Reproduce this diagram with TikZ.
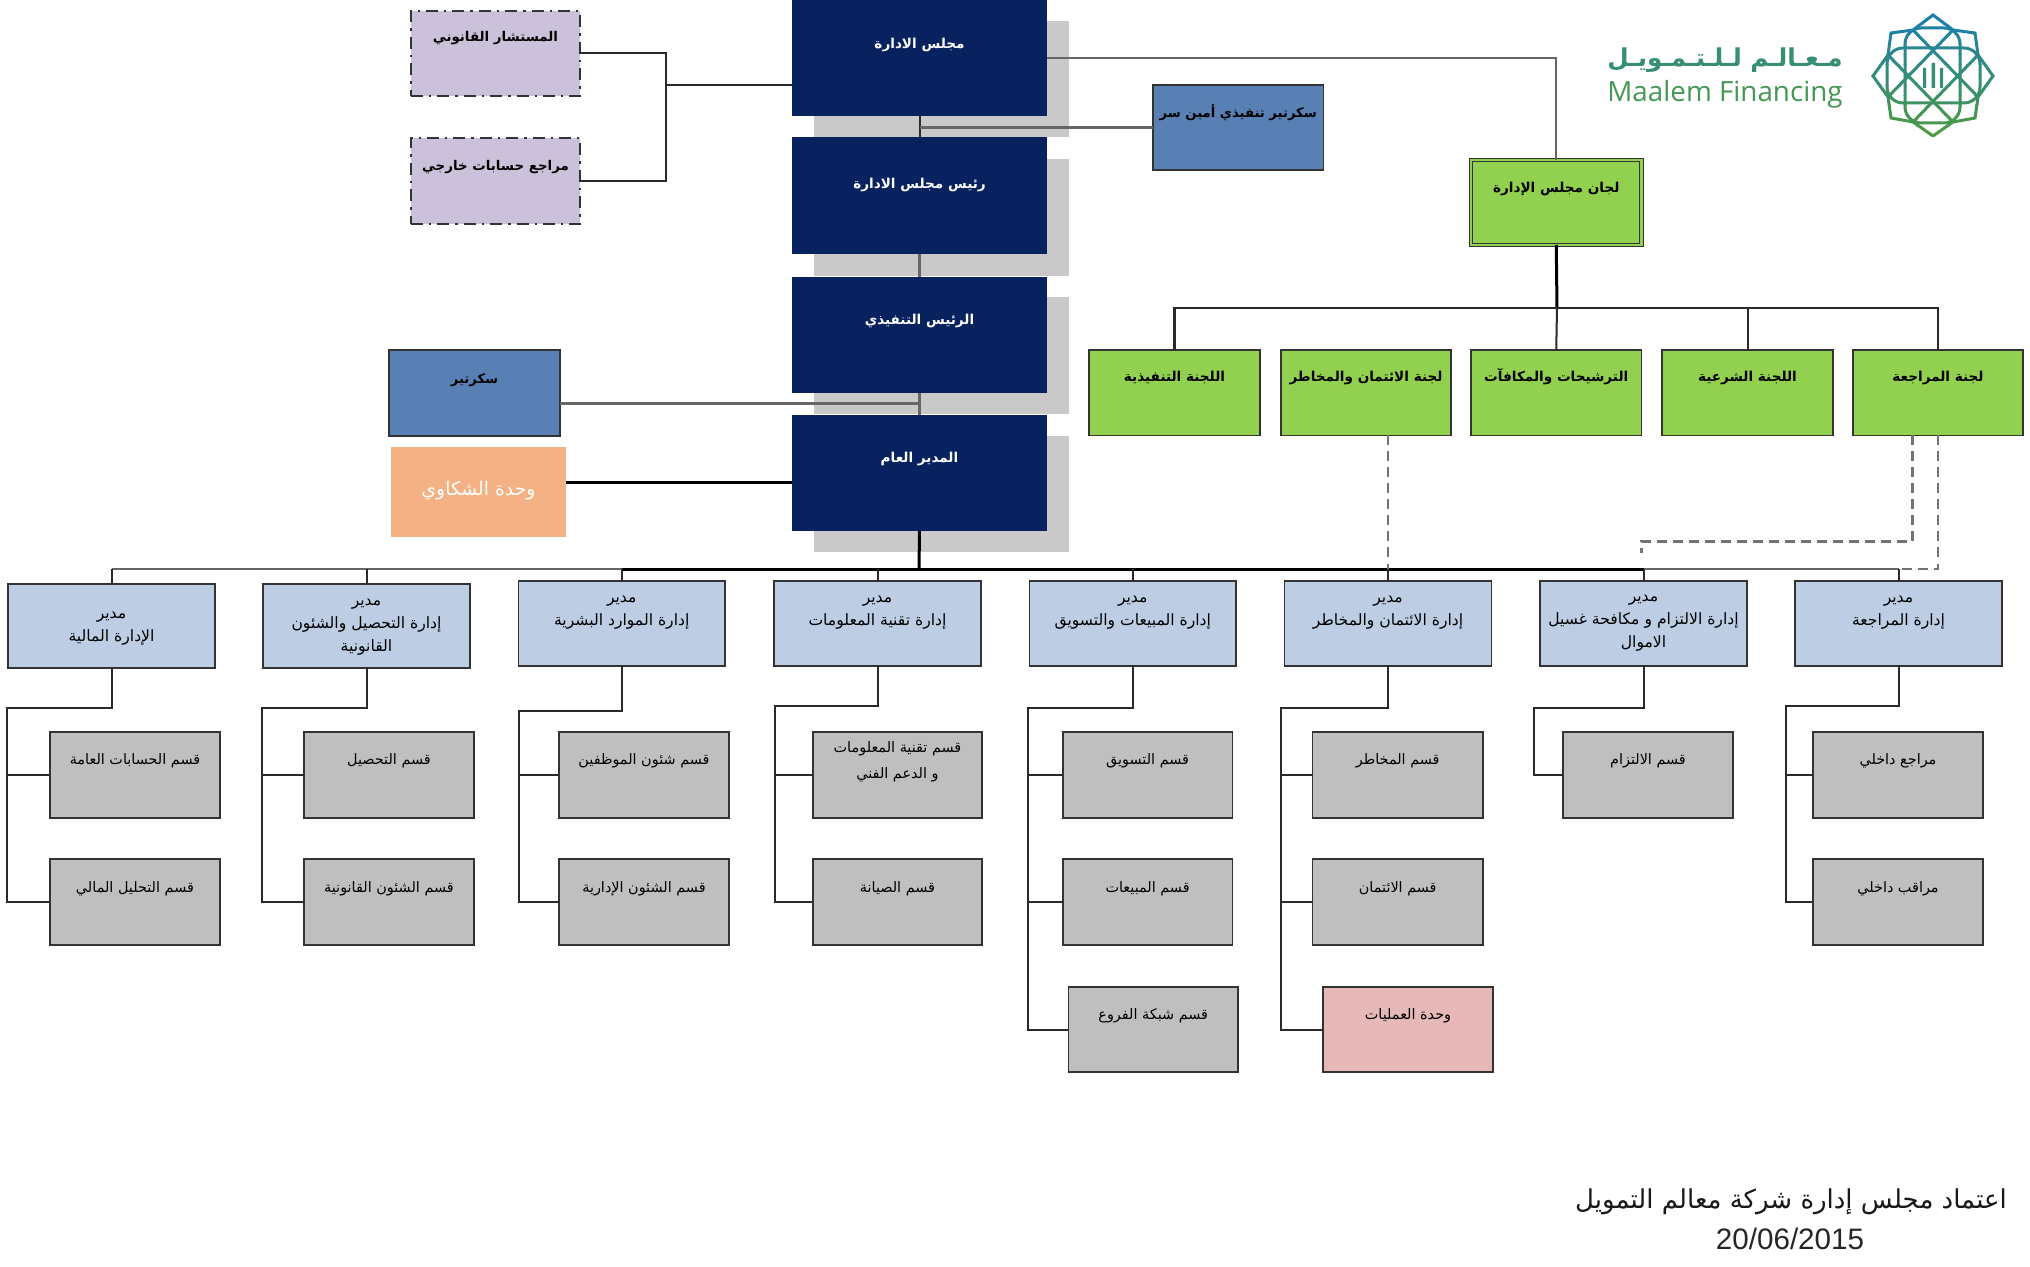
\documentclass[tikz,border=0pt]{standalone}
\usepackage{fontspec}
\setmainfont{Liberation Sans}
\newfontfamily\arabicfont[Script=Arabic]{DejaVu Sans}
\newfontfamily\latinlogo{Open Sans}
\TeXXeTstate=1
\usetikzlibrary{calc}
\definecolor{navyc}{HTML}{08215F}
\definecolor{shadowc}{HTML}{C9C9C9}
\definecolor{purplec}{HTML}{CCC1DA}
\definecolor{bluec}{HTML}{5880B4}
\definecolor{greenc}{HTML}{92D050}
\definecolor{lightc}{HTML}{BDCEE4}
\definecolor{grayc}{HTML}{BFBFBF}
\definecolor{pinkc}{HTML}{E6B9B8}
\definecolor{orangec}{HTML}{F4B183}
\definecolor{edgec}{HTML}{333333}
\definecolor{wirec}{HTML}{2A2A2A}
\definecolor{logob}{HTML}{1B7FAE}
\definecolor{logog}{HTML}{4C9B45}
\newcommand\ar[1]{\beginR #1\endR}
\newcommand\lines[2]{\raisebox{#1}[0pt][0pt]{\begin{tabular}{@{}c@{}}#2\end{tabular}}}
% \bx{name}{style}{x1}{y1}{x2}{y2}{text centre y}{lines}
\newcommand\bx[8]{%
  \pgfmathsetlengthmacro\bxup{((#4+#6)/2-#7)*0.5pt-1.6pt}%
  \node[#2,minimum width={(#5-#3)*0.5pt},minimum height={(#6-#4)*0.5pt}] (#1)
    at ({(#3+#5)/2},{(#4+#6)/2}) {\lines{\bxup}{#8}};}
\tikzset{
  every node/.style={inner sep=0pt,outer sep=0pt,rectangle},
  navybox/.style={fill=navyc,text=white,font=\arabicfont\bfseries\fontsize{6.8}{11}\selectfont},
  purplebox/.style={fill=purplec,draw=edgec,line width=1.1pt,dash pattern=on 6pt off 3pt on 1.2pt off 3pt,font=\arabicfont\bfseries\fontsize{6.7}{11}\selectfont},
  bluebox/.style={fill=bluec,draw=edgec,line width=0.9pt,font=\arabicfont\bfseries\fontsize{6.6}{11}\selectfont},
  orangebox/.style={fill=orangec,text=white,font=\arabicfont\fontsize{9.4}{11}\selectfont},
  greenbox/.style={fill=greenc,draw=edgec,line width=0.8pt,font=\arabicfont\bfseries\fontsize{6.8}{11}\selectfont},
  parentbox/.style={fill=greenc,draw=edgec,line width=0.5pt,double=greenc,double distance=1.1pt,font=\arabicfont\bfseries\fontsize{6.8}{11}\selectfont},
  deptbox/.style={fill=lightc,draw=edgec,line width=0.8pt,font=\arabicfont\fontsize{7.8}{11.5}\selectfont},
  subbox/.style={fill=grayc,draw=edgec,line width=0.8pt,font=\arabicfont\fontsize{7.2}{13}\selectfont},
  pinkbox/.style={subbox,fill=pinkc},
  wire/.style={draw=wirec,line width=1pt},
  greywire/.style={draw=black!60,line width=1.2pt},
  thickwire/.style={draw=black,line width=1.5pt},
  dashwire/.style={draw=black!55,line width=1.1pt,dash pattern=on 5pt off 3pt},
  footer/.style={font=\arabicfont\fontsize{13}{14}\selectfont,text=black!90},
  logotext/.style={text=logog!85!logob},
}
\newcommand\logoshape{%
  \draw (1933,15)--(1953,30)--(1975,33)--(1978,55)--(1993,76)--(1978,97)--(1975,118)--(1953,122)--(1933,136)--(1913,122)--(1891,118)--(1888,97)--(1873,76)--(1888,55)--(1891,33)--(1913,30)--cycle;
  \draw[rounded corners=8pt] (1887,48) rectangle (1980,103);
  \draw[rounded corners=8pt] (1905,28) rectangle (1960,123);
  \draw (1913,30)--(1978,97) (1953,30)--(1888,97) (1978,55)--(1913,122) (1888,55)--(1953,122);
}
\begin{document}
\begin{tikzpicture}[x=0.5pt,y=-0.5pt]
\useasboundingbox (0,0) rectangle (2030,1267);
\fill[white] (0,0) rectangle (2030,1267);
% shadows
\fill[shadowc] (814,21) rectangle (1069,137.5);
\fill[shadowc] (814,159) rectangle (1069,276);
\fill[shadowc] (814,297.5) rectangle (1069,414);
\fill[shadowc] (814,436) rectangle (1069,552);
% top
\bx{board}{navybox}{792}{0}{1047}{116}{44}{\ar{مجلس الادارة}}
\bx{chair}{navybox}{792}{137.5}{1047}{254}{184}{\ar{رئيس مجلس الادارة}}
\bx{ceo}{navybox}{792}{277}{1047}{393}{320}{\ar{الرئيس التنفيذي}}
\bx{gm}{navybox}{792}{415}{1047}{531}{458}{\ar{المدير العام}}
\bx{legal}{purplebox}{411}{11}{580}{96}{37.5}{\ar{المستشار القانوني}}
\bx{extaudit}{purplebox}{411}{138}{580}{224}{166}{\ar{مراجع حسابات خارجي}}
\bx{sec}{bluebox}{389}{350}{560}{436}{379}{\ar{سكرتير}}
\bx{complaints}{orangebox}{391}{447.5}{566}{537.5}{492}{\ar{وحدة الشكاوي}}
\bx{execsec}{bluebox}{1153}{85}{1323.5}{170}{113}{\ar{سكرتير تنفيذي أمين سر}}
\bx{cmtes}{parentbox}{1471}{160}{1641.5}{245}{188}{\ar{لجان مجلس الإدارة}}
% committees
\bx{c1}{greenbox}{1089}{350}{1260}{435.5}{377}{\ar{اللجنة التنفيذية}}
\bx{c2}{greenbox}{1281}{350}{1451}{435.5}{377}{\ar{لجنة الائتمان والمخاطر}}
\bx{c3}{greenbox}{1471}{350}{1641.5}{435.5}{377}{\ar{الترشيحات والمكافآت}}
\bx{c4}{greenbox}{1662}{350}{1833}{435.5}{377}{\ar{اللجنة الشرعية}}
\bx{c5}{greenbox}{1853}{350}{2023}{435.5}{377}{\ar{لجنة المراجعة}}
% departments
\bx{d1}{deptbox}{8}{584}{215}{668}{626}{\ar{مدير}\\\ar{الإدارة المالية}}
\bx{d2}{deptbox}{263}{584}{470}{668}{625}{\ar{مدير}\\\ar{إدارة التحصيل والشئون}\\\ar{القانونية}}
\bx{d3}{deptbox}{518.5}{580.7}{725}{665.7}{610}{\ar{مدير}\\\ar{إدارة الموارد البشرية}}
\bx{d4}{deptbox}{774}{580.7}{981}{665.7}{610}{\ar{مدير}\\\ar{إدارة تقنية المعلومات}}
\bx{d5}{deptbox}{1029.5}{580.7}{1236}{665.7}{610}{\ar{مدير}\\\ar{إدارة المبيعات والتسويق}}
\bx{d6}{deptbox}{1284.6}{580.7}{1491.5}{665.7}{610}{\ar{مدير}\\\ar{إدارة الائتمان والمخاطر}}
\bx{d7}{deptbox}{1540}{580.7}{1747}{665.7}{621}{\ar{مدير}\\\ar{إدارة الالتزام و مكافحة غسيل}\\\ar{الاموال}}
\bx{d8}{deptbox}{1795}{580.7}{2002}{665.7}{610}{\ar{مدير}\\\ar{إدارة المراجعة}}
% sections
\bx{s11}{subbox}{50}{732}{220}{818}{760}{\ar{قسم الحسابات العامة}}
\bx{s12}{subbox}{50}{859}{220}{945}{888}{\ar{قسم التحليل المالي}}
\bx{s21}{subbox}{304}{732}{474}{818}{760}{\ar{قسم التحصيل}}
\bx{s22}{subbox}{304}{859}{474}{945}{888}{\ar{قسم الشئون القانونية}}
\bx{s31}{subbox}{559}{732}{729}{818}{760}{\ar{قسم شئون الموظفين}}
\bx{s32}{subbox}{559}{859}{729}{945}{888}{\ar{قسم الشئون الإدارية}}
\bx{s41}{subbox}{813}{732}{982}{818}{761}{\ar{قسم تقنية المعلومات}\\\ar{و الدعم الفني}}
\bx{s42}{subbox}{813}{859}{982}{945}{888}{\ar{قسم الصيانة}}
\bx{s51}{subbox}{1062.7}{732}{1232.5}{818}{760}{\ar{قسم التسويق}}
\bx{s52}{subbox}{1062.7}{859}{1232.5}{945}{888}{\ar{قسم المبيعات}}
\bx{s53}{subbox}{1068.5}{987}{1238}{1072}{1015}{\ar{قسم شبكة الفروع}}
\bx{s61}{subbox}{1312.5}{732}{1483}{818}{760}{\ar{قسم المخاطر}}
\bx{s62}{subbox}{1312.5}{859}{1483}{945}{888}{\ar{قسم الائتمان}}
\bx{s63}{pinkbox}{1323}{987}{1493}{1072}{1015}{\ar{وحدة العمليات}}
\bx{s71}{subbox}{1563}{732}{1733}{818}{760}{\ar{قسم الالتزام}}
\bx{s81}{subbox}{1813}{732}{1983}{818}{760}{\ar{مراجع داخلي}}
\bx{s82}{subbox}{1813}{859}{1983}{945}{888}{\ar{مراقب داخلي}}
% coordinates
\coordinate (jp) at (666,85);
\coordinate (secj) at (919,403.6);
\coordinate (compj) at (561,483);
\coordinate (cbus) at (1557,308);
\coordinate (bus) at (919,569);
\coordinate (e1) at (6.5,708);
\coordinate (e2) at (261.5,708);
\coordinate (e3) at (518.5,710.7);
\coordinate (e4) at (775,706);
\coordinate (e5) at (1027.6,708);
\coordinate (e6) at (1281,708);
\coordinate (e7) at (1534.4,707.7);
\coordinate (e8) at (1785.6,706);
\coordinate (dash1) at (1912.5,541.5);
\coordinate (dash2) at (1641.5,553);
% top connectors
\draw[wire] (legal.east) -| (jp);
\draw[wire] (extaudit.east) -| (jp);
\draw[wire] (jp) -- (jp-|board.west);
\draw[greywire] (board.east) -| (cmtes.north);
\draw[wire] (board.south) -- (chair.north);
\draw[greywire] (execsec.west) -- (execsec.west-|board.south);
\draw[greywire] (chair.south) -- (ceo.north);
\draw[greywire] (ceo.south) -- (gm.north);
\draw[greywire] (sec.east|-secj) -- (secj);
\draw[thickwire] (complaints.east|-compj) -- (compj-|gm.west);
% committee connectors
\draw[thickwire] (cmtes.south) -- (cbus);
\draw[wire,line width=1.1pt] (c1.north) |- (c5.north|-cbus) -- (c5.north);
\draw[wire] (c3.north) -- (cbus);
\draw[wire] (c4.north) -- (c4.north|-cbus);
% bus
\draw[greywire] (d1.north|-bus) -- (d3.north|-bus);
\draw[thickwire] (d3.north|-bus) -- (d7.north|-bus);
\draw[greywire] (d7.north|-bus) -- (d8.north|-bus);
\draw[thickwire] (gm.south) -- (bus);
\foreach \d in {d1,d2,d3,d4,d5,d6,d7,d8} \draw[wire] (\d.north) -- (\d.north|-bus);
% dashed
\draw[dashwire] (d6.north|-c2.south) -- (d6.north|-bus);
\draw[dashwire] (dash1|-c5.south) -- (dash1) -| (dash2);
\draw[dashwire] (c5.south) |- (d8.north|-bus);
% department trees
\draw[wire] (d1.south) |- (e1) |- (s11.west);
\draw[wire] (e1) |- (s12.west);
\draw[wire] (d2.south) |- (e2) |- (s21.west);
\draw[wire] (e2) |- (s22.west);
\draw[wire] (d3.south) |- (e3) |- (s31.west);
\draw[wire] (e3) |- (s32.west);
\draw[wire] (d4.south) |- (e4) |- (s41.west);
\draw[wire] (e4) |- (s42.west);
\draw[wire] (d5.south) |- (e5) |- (s51.west);
\draw[wire] (e5) |- (s52.west);
\draw[wire] (e5) |- (s53.west);
\draw[wire] (d6.south) |- (e6) |- (s61.west);
\draw[wire] (e6) |- (s62.west);
\draw[wire] (e6) |- (s63.west);
\draw[wire] (d7.south) |- (e7) |- (s71.west);
\draw[wire] (d8.south) |- (e8) |- (s81.west);
\draw[wire] (e8) |- (s82.west);
% footer
\node[footer] (approval) at (1791,1202) {\ar{اعتماد مجلس إدارة شركة معالم التمويل}};
\node[font=\fontsize{14.8}{16}\selectfont,text=black!85] (approvaldate) at (1790,1239) {20/06/2015};
% logo
\node[logotext,font=\latinlogo\fontsize{13.9}{15}\selectfont,anchor=base] (logolatin) at (1725,102) {Maalem Financing};
\node[text=logob!45!logog,font=\arabicfont\bfseries\fontsize{12.3}{13}\selectfont] (logoarabic) at (1725,60) {\ar{مـعـالـم لـلـتـمـويـل}};
\foreach \i in {0,...,11}{
  \pgfmathsetmacro\mixp{100-\i*100/11}
  \begin{scope}
    \clip ({1868},{14+\i*10.2}) rectangle ({1998},{14+(\i+1)*10.2});
    \colorlet{logocur}{logob!\mixp!logog}
    \begin{scope}[draw=logocur,line width=1.5pt]
      \logoshape
    \end{scope}
  \end{scope}
}
\fill[logob!45!logog] (1923,68) rectangle (1926,88) (1931.5,63) rectangle (1935,88) (1940,68) rectangle (1943,88);
\end{tikzpicture}
\end{document}
